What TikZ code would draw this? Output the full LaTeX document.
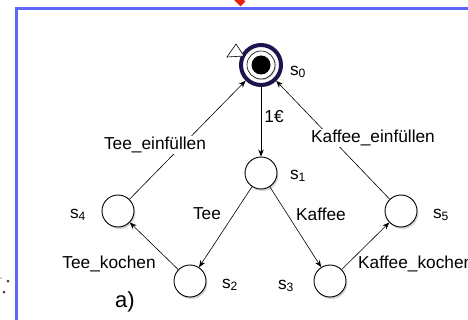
\documentclass[tikz,border=0pt]{standalone}
\usepackage{fontspec}
\setmainfont{Liberation Sans}
\usetikzlibrary{arrows.meta,shadows}

\definecolor{frameblue}{RGB}{92,104,250}
\definecolor{ringnavy}{RGB}{28,20,78}
\definecolor{pointerred}{RGB}{232,32,12}
\definecolor{dotgray}{RGB}{70,60,55}

\begin{document}
\begin{tikzpicture}[x=1pt,y=-1pt,
  state/.style={circle,draw=black,line width=0.9pt,fill=white,
    minimum size=32pt,inner sep=0pt,
    drop shadow={shadow xshift=1.4pt,shadow yshift=-2pt,opacity=0.35}},
  trans/.style={-{Stealth[length=7pt,width=5.5pt]},line width=0.6pt},
  lbl/.style={font=\fontsize{17.3}{19}\selectfont,inner sep=1pt,fill=white},
  biglbl/.style={font=\fontsize{22}{24}\selectfont,inner sep=0pt},
]
\useasboundingbox (0,0) rectangle (468,320);
\clip (0,0) rectangle (468,320);

% surrounding frame and pointer
\draw[frameblue,line width=3pt] (16.5,8.5) rectangle (560,400);
\draw[pointerred,line width=7pt] (231,-8) -- (243,4);
\fill[dotgray] (8,281) circle (1.5);
\fill[dotgray] (4,292) circle (1.5);
\fill[dotgray!50] (1,278) circle (0.8);

% initial state s0
\node[circle,draw=ringnavy,line width=4pt,fill=white,minimum size=40pt,
  drop shadow={shadow xshift=1.4pt,shadow yshift=-2pt,opacity=0.35}] (s0) at (261,65) {};
\node[circle,draw=black,line width=0.6pt,fill=white,minimum size=28pt,inner sep=0pt,
  drop shadow={shadow xshift=1.2pt,shadow yshift=-1pt,opacity=0.4}] (s0in) at (261,65) {};
\node[circle,fill=black,minimum size=19pt,inner sep=0pt] (s0dot) at (261,65) {};
\draw[line width=0.6pt,fill=white] (227,57) -- (236,44) -- (244,56) -- cycle;

% remaining states
\node[state] (s1) at (261,173) {};
\node[state] (s2) at (190,281) {};
\node[state] (s3) at (330,281) {};
\node[state] (s4) at (118,211) {};
\node[state] (s5) at (401,211) {};

% transitions
\draw[trans] (s0) -- (s1);
\draw[trans] (s1) -- (s2);
\draw[trans] (s1) -- (s3);
\draw[trans] (s2) -- (s4);
\draw[trans] (s3) -- (s5);
\draw[trans] (s4) -- (s0);
\draw[trans] (s5) -- (s0);

% state names
\node[lbl] (n0) at (298,72) {s\textsubscript{0}};
\node[lbl] (n1) at (298,176) {s\textsubscript{1}};
\node[lbl] (n2) at (230,285) {s\textsubscript{2}};
\node[lbl] (n3) at (286,286) {s\textsubscript{3}};
\node[lbl] (n4) at (78,215) {s\textsubscript{4}};
\node[lbl] (n5) at (441,215) {s\textsubscript{5}};

% transition labels
\node[lbl] (l01) at (274,117) {1€};
\node[lbl] (l12) at (207,214) {Tee};
\node[lbl] (l13) at (321,214) {Kaffee};
\node[lbl] (l24) at (109,264) {Tee\_kochen};
\node[lbl,anchor=west] (l35) at (357,264) {Kaffee\_kochen};
\node[lbl] (l40) at (155,145) {Tee\_einfüllen};
\node[lbl] (l50) at (373,138) {Kaffee\_einfüllen};

\node[biglbl] (cap) at (125,302) {a)};
\end{tikzpicture}
\end{document}
